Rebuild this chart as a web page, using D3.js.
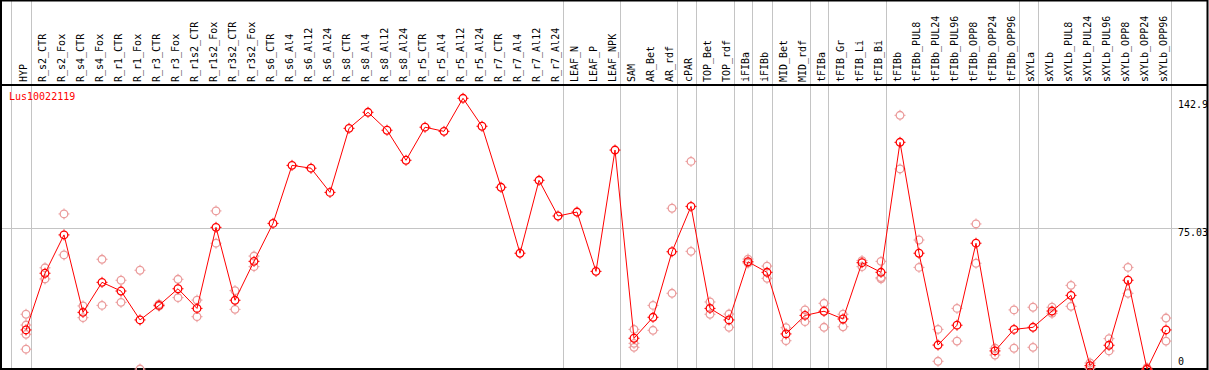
<!DOCTYPE html>
<html>
<head>
<meta charset="utf-8">
<script src="https://cdn.jsdelivr.net/npm/d3@7"></script>
<style>
  body { margin: 0; background: #fff; }
  svg { display: block; }
  text { font-family: "DejaVu Sans Mono", monospace; font-size: 10px; }
</style>
</head>
<body>
<script>
var samples = ["HYP", "R_s2_CTR", "R_s2_Fox", "R_s4_CTR", "R_s4_Fox", "R_r1_CTR", "R_r1_Fox",
    "R_r3_CTR", "R_r3_Fox", "R_r1s2_CTR", "R_r1s2_Fox", "R_r3s2_CTR", "R_r3s2_Fox",
    "R_s6_CTR", "R_s6_Al4", "R_s6_Al12", "R_s6_Al24", "R_s8_CTR", "R_s8_Al4", "R_s8_Al12", "R_s8_Al24",
    "R_r5_CTR", "R_r5_Al4", "R_r5_Al12", "R_r5_Al24", "R_r7_CTR", "R_r7_Al4", "R_r7_Al12", "R_r7_Al24",
    "LEAF_N", "LEAF_P", "LEAF_NPK", "SAM", "AR_Bet", "AR_rdf", "cPAR", "TOP_Bet", "TOP_rdf",
    "iFIBa", "iFIBb", "MID_Bet", "MID_rdf", "tFIBa", "tFIB_Gr", "tFIB_Li", "tFIB_Bi", "tFIBb",
    "tFIBb_PUL8", "tFIBb_PUL24", "tFIBb_PUL96", "tFIBb_OPP8", "tFIBb_OPP24", "tFIBb_OPP96",
    "sXYLa", "sXYLb", "sXYLb_PUL8", "sXYLb_PUL24", "sXYLb_PUL96", "sXYLb_OPP8", "sXYLb_OPP24", "sXYLb_OPP96"];

// mean expression per sample
var means = [21.2, 51.2, 71.5, 30.5, 46.4, 41.8, 26.5, 34.2, 43.0, 32.6, 75.5, 36.9, 57.5,
    77.6, 108.3, 106.8, 94.0, 127.9, 136.4, 126.9, 111.0, 128.5, 126.3, 143.8, 129.0,
    96.7, 61.8, 100.4, 81.5, 83.6, 52.2, 116.4, 16.8, 27.9, 62.6, 86.6, 32.6, 26.5,
    57.3, 51.7, 19.1, 28.9, 31.1, 27.0, 56.8, 51.7, 120.5, 61.8, 13.2, 23.7, 67.1, 10.1, 21.5,
    22.6, 31.2, 39.5, 2.3, 13.1, 47.5, 0.5, 21.2];

// replicate values (empty where none are drawn)
var replicates = [
    [29.5, 23.8, 18.9, 11.0], [54.1, 48.2], [82.6, 60.9], [33.9, 27.7], [58.6, 34.2],
    [47.5, 35.8], [52.8, 0.5], [34.8, 33.8], [48.0, 38.3], [37.0, 28.2], [84.2, 67.1],
    [42.0, 32.1], [60.3, 54.7],
    [], [], [], [], [], [], [], [], [], [], [], [], [], [], [], [], [], [], [],
    [21.5, 14.1, 12.0], [34.2, 21.0], [85.6, 40.6], [110.4, 62.8], [36.0, 29.5], [29.6, 22.6],
    [58.7, 56.6], [55.0, 48.5], [22.4, 15.5], [31.8, 25.6], [35.3, 22.6], [29.5, 22.9],
    [57.9, 54.7], [57.5, 48.9, 48.3], [134.8, 106.4], [68.8, 54.3], [21.5, 4.6], [32.6, 15.3],
    [77.3, 56.5], [11.5, 7.9], [31.8, 11.5], [33.2, 12.0], [33.2, 30.0], [44.8, 33.7],
    [3.7, 1.0], [16.6, 10.1], [54.3, 40.6], [1.2, 0.2], [27.5, 15.3]
];

// last sample index of each group (group separators)
var groupEnds = [-1, 0, 28, 31, 34, 35, 37, 38, 39, 41, 42, 45, 52, 53, 60];
var yTicks = [142.9, 75.03, 0];
var geneName = "Lus10022119";

var width = 1209, height = 370;
var svg = d3.select("body").append("svg").attr("width", width).attr("height", height);

var x = d3.scaleLinear().domain([0, samples.length - 1]).range([26, 1166]);
var y = d3.scaleLinear().domain([0, 142.9]).range([370, 100]);

// group separators through header and plot
svg.selectAll("line.grp")
    .data(groupEnds)
    .enter().append("line")
    .attr("class", "grp")
    .attr("x1", function (d) { return Math.round(x(d) + 4.5) + 0.5; })
    .attr("x2", function (d) { return Math.round(x(d) + 4.5) + 0.5; })
    .attr("y1", 0)
    .attr("y2", height)
    .attr("stroke", "#c4c4c4");

// horizontal reference line at mid tick
svg.append("line")
    .attr("x1", 1).attr("x2", 1208)
    .attr("y1", Math.round(y(yTicks[1])) + 0.5)
    .attr("y2", Math.round(y(yTicks[1])) + 0.5)
    .attr("stroke", "#c4c4c4");

// sample labels (rotated)
svg.selectAll("text.lbl")
    .data(samples)
    .enter().append("text")
    .attr("class", "lbl")
    .attr("transform", function (d, i) { return "translate(" + (x(i) + 1) + ",82) rotate(-90)"; })
    .attr("fill", "#000")
    .text(function (d) { return d; });

// frame
svg.append("rect")
    .attr("x", 1).attr("y", 0.5)
    .attr("width", 1206.5).attr("height", 368.5)
    .attr("fill", "none").attr("stroke", "#000").attr("stroke-width", 2);
svg.append("line")
    .attr("x1", 1).attr("x2", 1208).attr("y1", 85).attr("y2", 85)
    .attr("stroke", "#000").attr("stroke-width", 2);

// y tick labels
svg.selectAll("text.tick")
    .data(yTicks)
    .enter().append("text")
    .attr("class", "tick")
    .attr("x", 1178)
    .attr("y", function (d) { return Math.min(y(d) + 8, 365); })
    .attr("fill", "#000")
    .text(function (d) { return d; });

svg.append("text")
    .attr("x", 9).attr("y", 100)
    .attr("fill", "#ff0000")
    .text(geneName);

function marker(g, cx, cy, color) {
    g.append("circle")
        .attr("cx", cx).attr("cy", cy).attr("r", 3.8)
        .attr("fill", "none").attr("stroke", color).attr("stroke-width", 1.3);
    g.append("path")
        .attr("d", "M" + cx + "," + (cy - 5.5) + "v1.5M" + cx + "," + (cy + 4) + "v1.5M" +
            (cx - 5.5) + "," + cy + "h1.5M" + (cx + 4) + "," + cy + "h1.5")
        .attr("stroke", color).attr("stroke-width", 1);
}

// replicate points
var repG = svg.append("g");
replicates.forEach(function (reps, i) {
    reps.forEach(function (v) {
        marker(repG, x(i), y(v), "#eb9c9c");
    });
});

// mean line
var line = d3.line()
    .x(function (d, i) { return x(i); })
    .y(function (d) { return y(d); });

svg.append("path")
    .attr("d", line(means))
    .attr("fill", "none")
    .attr("stroke", "#ff0000")
    .attr("stroke-width", 1);

var meanG = svg.append("g");
means.forEach(function (v, i) {
    marker(meanG, x(i), y(v), "#ff0000");
});
</script>
</body>
</html>
